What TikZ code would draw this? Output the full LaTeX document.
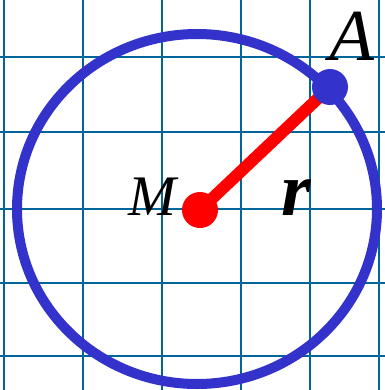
\documentclass[tikz,border=0pt]{standalone}
\usepackage{fontspec}
\setmainfont{Liberation Serif}

\begin{document}
\begin{tikzpicture}[
    x=0.75pt, y=-0.75pt,
    gridline/.style={vgrid, line width=1.2pt},
    ring/.style={vblue, line width=7.5pt},
    radius line/.style={vred, line width=9pt},
    bigdot/.style={circle, fill, inner sep=0pt, minimum size=27pt},
    lbl/.style={anchor=base, inner sep=0pt, font=\fontsize{#1}{#1}\selectfont\itshape},
    boldlbl/.style={anchor=base, inner sep=0pt, font=\fontsize{#1}{#1}\selectfont\bfseries\itshape},
]

\definecolor{vgrid}{HTML}{006699}
\definecolor{vblue}{HTML}{3333CC}
\definecolor{vred}{HTML}{FF0000}

\useasboundingbox (0, 0) rectangle (385, 390);

% ==========================================
% 1. GRID
% ==========================================

\foreach \gx in {4, 83, 162, 241, 310, 379}
    \draw[gridline] (\gx, 0) -- (\gx, 390);
\foreach \gy in {57, 132, 209, 283, 356}
    \draw[gridline] (0, \gy) -- (385, \gy);

% ==========================================
% 2. CIRCLE AND RADIUS
% ==========================================

\draw[ring] (197, 209) ellipse (180 and 175);

\coordinate (M) at (200, 210);
\coordinate (A) at (330, 87);

\draw[radius line] (M) -- (A);

\node[bigdot, vred] (Mdot) at (M) {};
\node[bigdot, vblue] (Adot) at (A) {};

% ==========================================
% 3. LABELS
% ==========================================

\node[lbl=43] (Mlabel) at (152, 215) {M};
\node[lbl=55] (Alabel) at (352, 60) {A};
\node[boldlbl=57] (rlabel) at (296, 215) {r};

\end{tikzpicture}
\end{document}
